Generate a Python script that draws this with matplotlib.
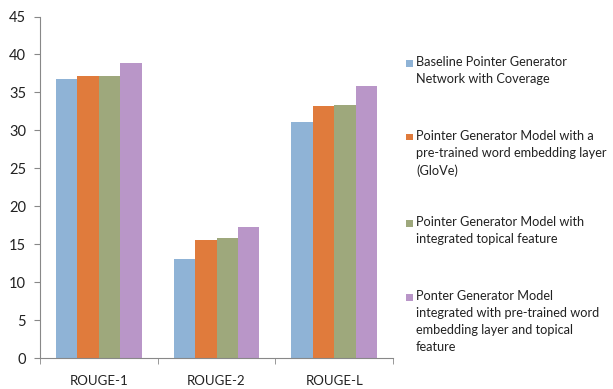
import numpy as np
import matplotlib.pyplot as plt
from matplotlib.patches import Rectangle

plt.rcParams['font.family'] = ['Lato', 'DejaVu Sans']

metrics = ['ROUGE-1', 'ROUGE-2', 'ROUGE-L']
baseline = [36.7, 13.0, 31.1]
glove = [37.1, 15.5, 33.2]
topical = [37.2, 15.8, 33.3]
glove_topical = [38.9, 17.2, 35.8]

series_labels = [
    'Baseline Pointer Generator\nNetwork with Coverage',
    'Pointer Generator Model with a\npre-trained word embedding layer\n(GloVe)',
    'Pointer Generator Model with\nintegrated topical feature',
    'Ponter Generator Model\nintegrated with pre-trained word\nembedding layer and topical\nfeature',
]
colors = ['#8fb3d6', '#e07b3c', '#9ea87c', '#b996c8']
y_ticks = [0, 5, 10, 15, 20, 25, 30, 35, 40, 45]

fig = plt.figure(figsize=(6.13, 3.89), dpi=100)
ax = fig.add_axes([40 / 613, 1 - 358 / 389, 353 / 613, 341.5 / 389])

x = np.arange(len(metrics))
width = 0.182
for i, vals in enumerate([baseline, glove, topical, glove_topical]):
    ax.bar(x + (i - 1.5) * width, vals, width, color=colors[i])

ax.set_xlim(-0.5, 2.5)
ax.set_ylim(0, 45)
ax.set_yticks(y_ticks)
ax.set_xticks(x)
ax.set_xticklabels(metrics, fontsize=9.5)
ax.set_xticks([-0.5, 0.5, 1.5, 2.5], minor=True)
ax.tick_params(axis='x', which='major', length=0, pad=12, colors='#222222')
ax.tick_params(axis='x', which='minor', length=4, direction='out', color='#888888')
ax.tick_params(axis='y', length=4, direction='out', color='#888888', labelsize=10.5,
               labelcolor='#222222', pad=6)
for side in ['top', 'right']:
    ax.spines[side].set_visible(False)
for side in ['left', 'bottom']:
    ax.spines[side].set_color('#888888')

# legend drawn by hand so each swatch sits on the first line of its label
first_line_y = [63, 137, 223, 297]
for label, color, yc in zip(series_labels, colors, first_line_y):
    fig.add_artist(Rectangle(((409 - 3.5) / 613, 1 - (yc + 3.5) / 389), 7 / 613, 7 / 389,
                             transform=fig.transFigure, color=color, lw=0))
    fig.text(416 / 613, 1 - (yc - 7) / 389, label, fontsize=9.2, va='top', ha='left',
             linespacing=1.5, color='#222222')

fig.savefig('out.png', dpi=100)
